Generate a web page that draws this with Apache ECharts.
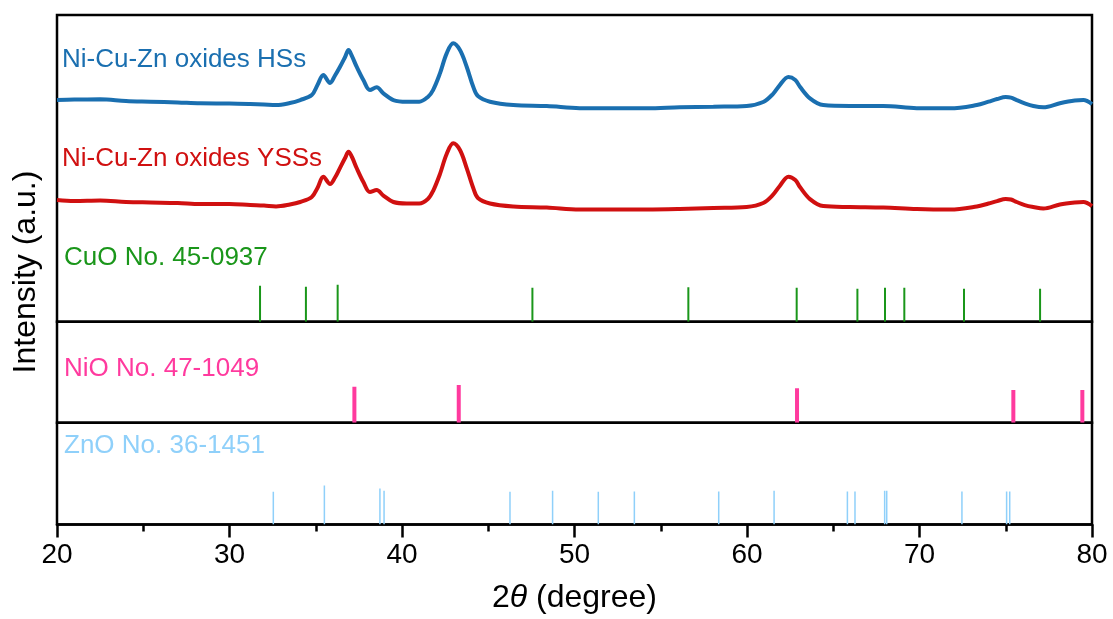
<!DOCTYPE html>
<html><head><meta charset="utf-8">
<script src="https://cdn.jsdelivr.net/npm/echarts@6/dist/echarts.min.js"></script>
<style>html,body{margin:0;padding:0;background:#fff}#c{width:1113px;height:619px}</style>
</head><body><div id="c"></div>
<script>
// 2θ (degree) and intensity (a.u.)
const twoTheta = [20.0,21.0,22.5,24.0,25.4,27.0,28.3,30.0,31.2,32.0,32.7,33.5,34.1,34.77,35.1,35.44,35.83,36.1,36.4,36.7,36.9,37.1,37.37,37.76,38.14,38.53,38.92,39.5,40.27,41.0,41.5,41.8,42.2,42.59,42.97,43.36,43.75,44.13,44.4,45.1,46.45,48.39,50.3,52.25,54.19,56.1,58.05,59.98,60.94,61.5,61.9,62.4,62.8,63.07,63.65,64.42,65.97,67.9,69.84,71.77,73.32,74.0,74.5,75.0,75.3,75.63,76.1,76.6,77.18,78.14,79.0,79.5,80.0];
const hsIntensity = [216.8,217.3,217.5,215.9,215.2,214.4,213.6,213.4,212.9,212.4,211.9,213.9,216.8,221.7,231.5,241.3,233.5,240.3,249.1,258.9,265.7,259.8,249.4,236.4,226.6,229.3,223.4,216.8,215.2,215.2,219.8,226.6,242.9,262.5,272.3,265.7,249.4,229.8,220.7,215.2,211.9,210.9,208.9,208.7,208.7,209.7,210.3,211.0,214.9,222.7,231.5,239.3,236.4,229.8,218.5,211.9,211.0,211.0,208.9,208.7,211.9,215.2,217.8,219.7,219.2,216.8,213.6,211.0,209.7,213.6,216.3,216.8,212.9];
const yssIntensity = [119.0,118.0,118.5,117.1,116.6,116.1,115.1,115.1,114.1,113.6,112.7,114.6,117.1,122.0,130.8,141.8,134.7,140.5,150.3,160.1,166.3,161.1,150.3,136.6,126.8,128.8,123.4,117.1,115.6,115.6,120.0,127.8,144.4,164.0,174.5,167.9,150.3,130.8,121.0,115.6,112.7,111.7,109.7,109.7,109.7,110.2,111.2,112.2,116.1,124.0,132.8,141.8,138.6,131.7,119.9,113.1,112.2,111.7,110.2,109.7,112.7,115.6,118.0,120.0,119.5,117.1,114.1,112.2,110.7,114.6,116.6,117.1,113.1];

// reference sticks (as labelled in the figure)
const cuoPos = [31.77,34.43,36.27,47.56,56.6,62.88,66.4,68.0,69.12,72.58,76.99];
const cuoInt = [35.2,34.2,36.2,33.3,33.7,33.3,32.3,33.3,33.3,32.3,32.3];
const nioPos = [37.24,43.29,62.9,75.44,79.44];
const nioInt = [35.6,37.3,34.1,32.4,32.4];
const znoPos = [32.54,35.5,38.72,38.96,46.26,48.73,51.38,53.47,58.36,61.57,65.82,66.26,67.98,68.1,72.46,75.05,75.23];
const znoInt = [32.1,38.4,35.4,33.1,32.1,33.1,32.1,32.5,32.5,33.1,32.5,32.5,33.1,33.1,32.5,32.5,32.5];

const xTicks = [20,30,40,50,60,70,80];
const labels = ['Ni-Cu-Zn oxides HSs','Ni-Cu-Zn oxides YSSs','CuO No. 45-0937','NiO No. 47-1049','ZnO No. 36-1451'];

const FONT = '"Liberation Sans", Arial, sans-serif';
const C = {hs:'#1a6fb0', yss:'#d01010', cuo:'#1a961a', nio:'#ff3a9e', zno:'#8fd0fa'};

const zip = (a,b) => a.map((v,i)=>[v,b[i]]);
function stickSeries(pos, inten, idx, color, w){
  return {type:'custom', xAxisIndex:idx, yAxisIndex:idx, data:zip(pos,inten), clip:true,
    renderItem:(params, api)=>{
      const p0 = api.coord([api.value(0),0]); const p1 = api.coord([api.value(0),api.value(1)]);
      return {type:'line', shape:{x1:p0[0],y1:p0[1],x2:p1[0],y2:p1[1]}, style:{stroke:color,lineWidth:w}};
    }};
}
const gridBase = {left:57, right:21, show:true, borderColor:'#000', borderWidth:2.5, backgroundColor:'transparent'};
const hiddenX = i => ({type:'value', gridIndex:i, min:20, max:80, interval:10, show:false});
const hiddenY = (i,max) => ({type:'value', gridIndex:i, min:0, max:max, show:false});

const chart = echarts.init(document.getElementById('c'), null, {renderer:'canvas'});
chart.setOption({
  animation:false,
  grid:[
    Object.assign({}, gridBase, {top:15, height:306.7}),
    Object.assign({}, gridBase, {top:321.7, height:101}),
    Object.assign({}, gridBase, {top:422.7, height:101.8})
  ],
  xAxis:[hiddenX(0), hiddenX(1), {
    type:'value', gridIndex:2, min:20, max:80, interval:10,
    axisLine:{show:true, lineStyle:{color:'#000', width:2.5}},
    axisTick:{show:true, inside:false, length:13, lineStyle:{color:'#000', width:2.5}},
    minorTick:{show:true, splitNumber:2, length:7, lineStyle:{color:'#000', width:2.5}},
    splitLine:{show:false},
    axisLabel:{margin:17, fontSize:28, color:'#000', fontFamily:FONT,
      formatter:v => xTicks.includes(v) ? String(v) : ''},
    name:'{a|2}{i|θ}{a| (degree)}', nameLocation:'middle', nameGap:58,
    nameTextStyle:{rich:{a:{fontSize:32, fontFamily:FONT, color:'#000'}, i:{fontSize:32, fontFamily:FONT, fontStyle:'italic', color:'#000'}}}
  }],
  yAxis:[hiddenY(0,300), hiddenY(1,100), hiddenY(2,100)],
  graphic:[
    {type:'text', left:62, top:47, style:{text:labels[0], fill:C.hs, font:'26px '+FONT}},
    {type:'text', left:62, top:146, style:{text:labels[1], fill:C.yss, font:'26px '+FONT}},
    {type:'text', left:64, top:245, style:{text:labels[2], fill:C.cuo, font:'26px '+FONT}},
    {type:'text', left:64, top:356, style:{text:labels[3], fill:C.nio, font:'26px '+FONT}},
    {type:'text', left:64, top:433, style:{text:labels[4], fill:C.zno, font:'26px '+FONT}},
    {type:'text', x:26, y:272, rotation:Math.PI/2, style:{text:'Intensity (a.u.)', fill:'#000', font:'32px '+FONT, textAlign:'center', textVerticalAlign:'middle'}}
  ],
  series:[
    {type:'line', xAxisIndex:0, yAxisIndex:0, data:zip(twoTheta,hsIntensity), showSymbol:false, smooth:0.35, lineStyle:{color:C.hs, width:4}},
    {type:'line', xAxisIndex:0, yAxisIndex:0, data:zip(twoTheta,yssIntensity), showSymbol:false, smooth:0.35, lineStyle:{color:C.yss, width:4}},
    stickSeries(cuoPos, cuoInt, 0, C.cuo, 2),
    stickSeries(nioPos, nioInt, 1, C.nio, 4),
    stickSeries(znoPos, znoInt, 2, C.zno, 1.5)
  ]
});
</script></body></html>
